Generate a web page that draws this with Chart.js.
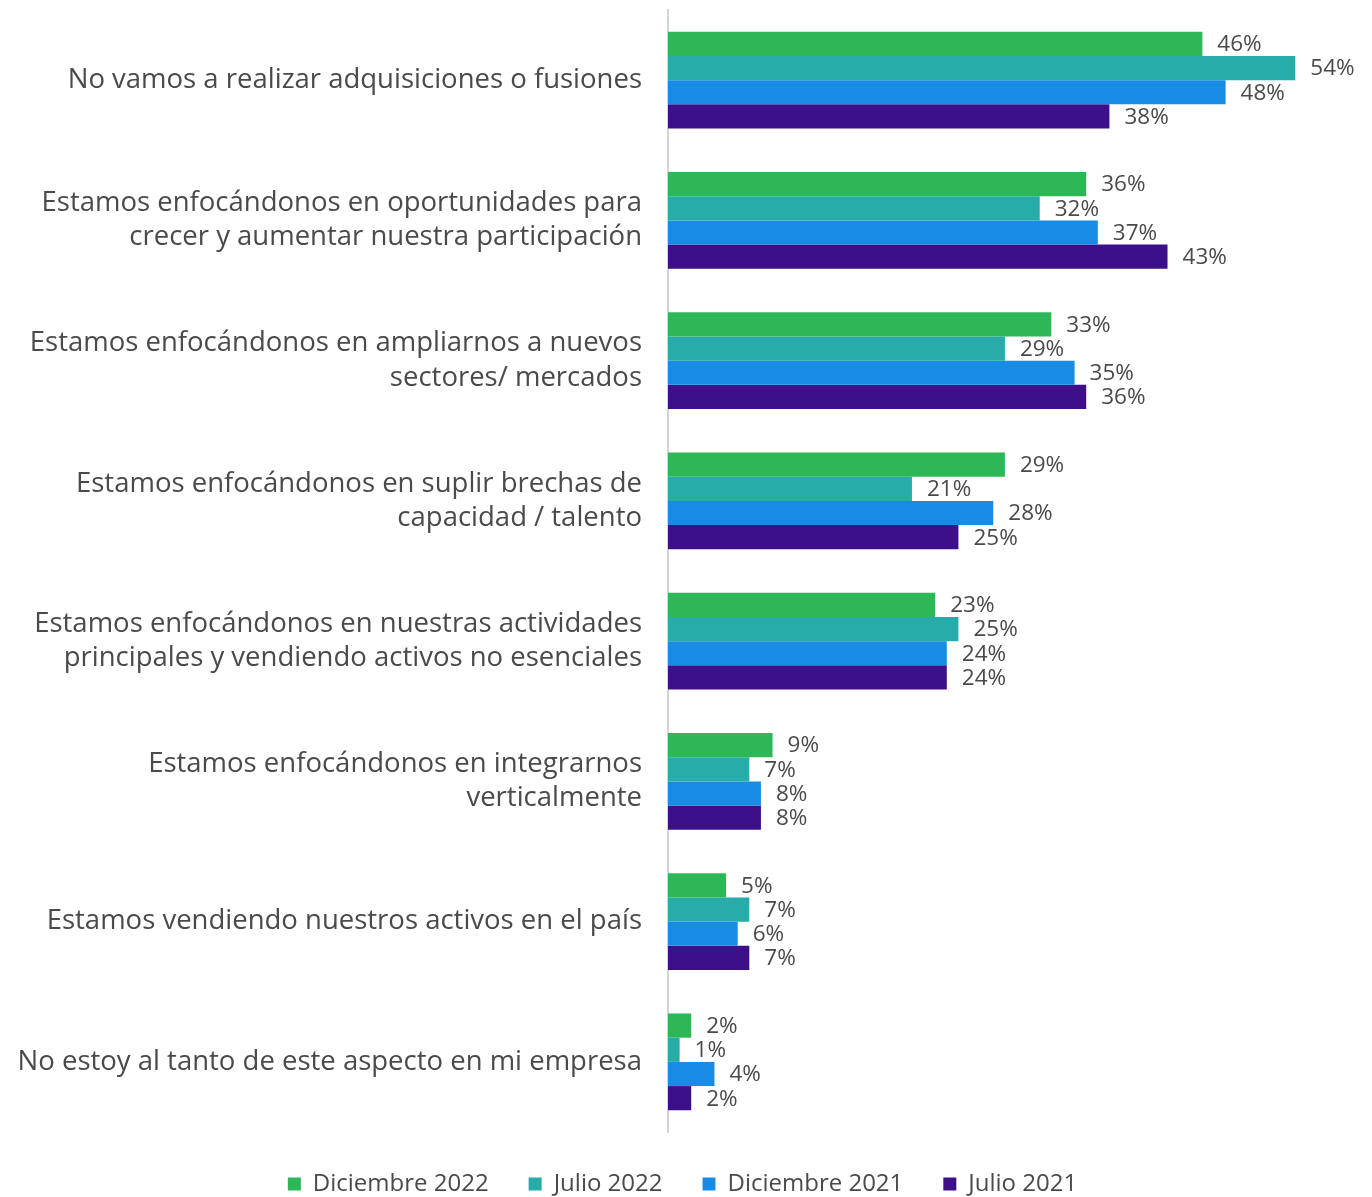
<!DOCTYPE html>
<html>
<head>
<meta charset="utf-8">
<script src="https://cdn.jsdelivr.net/npm/chart.js@4/dist/chart.umd.min.js"></script>
<style>
  html, body { margin: 0; padding: 0; background: #fff; }
  #wrap { width: 1372px; height: 1197px; }
</style>
</head>
<body>
<div id="wrap"><canvas id="chart" width="1372" height="1197"></canvas></div>
<script>
// ========== DATA ==========
const categories = [
    ['No vamos a realizar adquisiciones o fusiones'],
    ['Estamos enfocándonos en oportunidades para', 'crecer y aumentar nuestra participación'],
    ['Estamos enfocándonos en ampliarnos a nuevos', 'sectores/ mercados'],
    ['Estamos enfocándonos en suplir brechas de', 'capacidad / talento'],
    ['Estamos enfocándonos en nuestras actividades', 'principales y vendiendo activos no esenciales'],
    ['Estamos enfocándonos en integrarnos', 'verticalmente'],
    ['Estamos vendiendo nuestros activos en el país'],
    ['No estoy al tanto de este aspecto en mi empresa']
];

const seriesNames = ['Diciembre 2022', 'Julio 2022', 'Diciembre 2021', 'Julio 2021'];

const dic2022 = [46, 36, 33, 29, 23, 9, 5, 2];
const jul2022 = [54, 32, 29, 21, 25, 7, 7, 1];
const dic2021 = [48, 37, 35, 28, 24, 8, 6, 4];
const jul2021 = [38, 43, 36, 25, 24, 8, 7, 2];

const COLORS = ['#2db757', '#27acaa', '#188ce5', '#3d108a'];
const TEXT = '#4a4a4a';
const FONT = "'Open Sans', 'Noto Sans', sans-serif";

// ========== VALUE LABELS ==========
const valueLabels = {
    id: 'valueLabels',
    afterDatasetsDraw(chart) {
        const ctx = chart.ctx;
        ctx.save();
        ctx.font = `22.5px ${FONT}`;
        ctx.fillStyle = TEXT;
        ctx.textAlign = 'left';
        ctx.textBaseline = 'middle';
        chart.data.datasets.forEach((ds, i) => {
            const meta = chart.getDatasetMeta(i);
            meta.data.forEach((bar, j) => {
                ctx.fillText(ds.data[j] + '%', bar.x + 15, bar.y + 1);
            });
        });
        ctx.restore();
    }
};

const allSeries = [dic2022, jul2022, dic2021, jul2021];

new Chart(document.getElementById('chart'), {
    type: 'bar',
    data: {
        labels: categories,
        datasets: allSeries.map((vals, i) => ({
            label: seriesNames[i],
            data: vals,
            backgroundColor: COLORS[i],
            borderWidth: 0,
            categoryPercentage: 0.69,
            barPercentage: 1.0
        }))
    },
    options: {
        indexAxis: 'y',
        responsive: false,
        animation: false,
        devicePixelRatio: 1,
        layout: { padding: { top: 10, right: 7, bottom: -9, left: 0 } },
        scales: {
            x: { display: false, min: 0, max: 60 },
            y: {
                afterFit: (scale) => {
                    scale.width = 668;
                    scale.paddingTop = 0;
                    scale.paddingBottom = 0;
                },
                grid: { display: false, drawTicks: false },
                border: { display: true, color: '#d4d4d4', width: 2 },
                ticks: {
                    color: TEXT,
                    font: { family: FONT, size: 27.5, lineHeight: 1.24 },
                    padding: 26,
                    autoSkip: false
                }
            }
        },
        plugins: {
            legend: {
                position: 'bottom',
                labels: {
                    color: TEXT,
                    font: { family: FONT, size: 24 },
                    boxWidth: 13,
                    boxHeight: 13,
                    padding: 40
                }
            },
            tooltip: { enabled: false }
        }
    },
    plugins: [valueLabels]
});
</script>
</body>
</html>
